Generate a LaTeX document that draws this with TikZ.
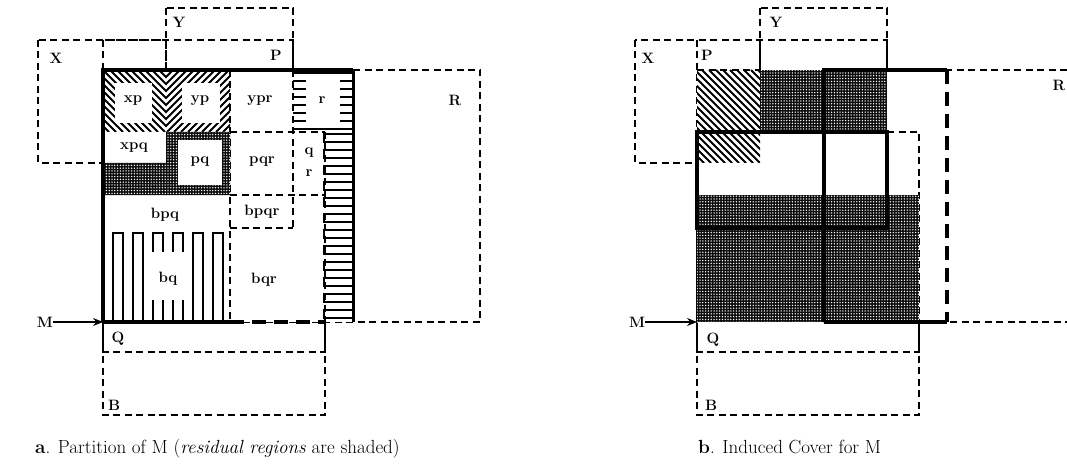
\documentclass[tikz,border=0pt]{standalone}
\usepackage{fontspec}
\usetikzlibrary{patterns,patterns.meta,arrows.meta}
\begin{document}
\begin{tikzpicture}[x=1pt,y=-1pt,
  dsh/.style={line width=1.6pt,dash pattern=on 7pt off 4.5pt},
  thk/.style={line width=3.6pt},
  thkd/.style={line width=3.6pt,dash pattern=on 14pt off 8pt},
  lbl/.style={font=\bfseries\fontsize{15}{16}\selectfont,inner sep=0pt},
  captxt/.style={font=\fontsize{19}{22}\selectfont,inner sep=0pt,anchor=base west},
  dots/.style={fill=black!95,postaction={pattern={Dots[distance=2.8pt,radius=0.75pt]},pattern color=white}},
  hatchln/.style={line width=2.1pt},
  hline/.style={line width=1.8pt},
  arr/.style={line width=1.4pt,-{Stealth[length=10pt,width=8pt]}}
]
\useasboundingbox (0,0) rectangle (1067,465);

% ================= part a =================
\draw[dsh] (38,40) rectangle (166,163);   % X
\draw[dsh] (166,8) rectangle (293,132);   % Y
\draw[dsh] (103,40) rectangle (293,228);  % P
\draw[dsh] (103,132) rectangle (325,352); % Q
\draw[dsh] (103,195) rectangle (325,415); % B
\draw[dsh] (230,70) rectangle (480,322);  % R
\fill[white] (103,70) rectangle (353,322);
% interior boundaries
\draw[dsh] (293,70) -- (293,228);
\draw[dsh] (230,132) -- (325,132);
\draw[dsh] (230,70) -- (230,322);
\draw[dsh] (230,195) -- (325,195);
\draw[dsh] (230,228) -- (293,228);
\draw[dsh] (325,132) -- (325,322);
% xp, yp hatched
\begin{scope}
  \clip (103,70) rectangle (166,132);
  \foreach \t in {0,...,18} { \draw[hatchln] ({40+7*\t},70) -- ({102+7*\t},132); }
\end{scope}
\begin{scope}
  \clip (166,70) rectangle (230,132);
  \foreach \t in {0,...,18} { \draw[hatchln] ({104+7*\t},132) -- ({166+7*\t},70); }
\end{scope}
\fill[white] (115,83) rectangle (152,123);
\fill[white] (182,83) rectangle (220,123);
% pq residual (dotted)
\fill[dots] (166,132) -- (230,132) -- (230,195) -- (103,195) -- (103,163) -- (166,163) -- cycle;
\fill[white] (178,140) rectangle (222,185);
% r region comb
\fill[pattern={Lines[angle=0,distance=8pt,line width=1.7pt]}] (293,72) rectangle (353,130);
\fill[white] (306,78) rectangle (340,124);
\foreach \k in {0,...,11} {
  \draw[hline] (353,{134+16*\k}) -- (324,{134+16*\k}) -- (324,{142+16*\k}) -- (353,{142+16*\k});
}
\draw[line width=3pt] (353,70) -- (353,322);
% bq vertical meander
\fill[white] (104,229) rectangle (229,321);
\foreach \k in {0,...,5} {
  \draw[hline] ({113+20*\k},322) -- ({113+20*\k},233) -- ({123+20*\k},233) -- ({123+20*\k},322);
}
\fill[white] (148,252) rectangle (190,300);
% M outline
\draw[thk] (103,322) -- (103,70) -- (353,70);
\draw[thk] (103,322) -- (230,322);
\draw[thkd] (230,322) -- (325,322);
% labels
\node[lbl] (lX) at (56,58) {X};
\node[lbl] (lY) at (179,22) {Y};
\node[lbl] (lP) at (276,55) {P};
\node[lbl] (lR) at (455,100) {R};
\node[lbl] (lxp) at (133,101) {xp};
\node[lbl] (lyp) at (200,101) {yp};
\node[lbl] (lypr) at (260,101) {ypr};
\node[lbl] (lr) at (322,100) {r};
\node[lbl] (lxpq) at (134,148) {xpq};
\node[lbl] (lpq) at (200,162) {pq};
\node[lbl] (lpqr) at (262,162) {pqr};
\node[lbl] (lq) at (309,153) {q};
\node[lbl] (lr2) at (309,173) {r};
\node[lbl] (lbpq) at (165,215) {bpq};
\node[lbl] (lbpqr) at (262,212) {bpqr};
\node[lbl] (lbq) at (168,279) {bq};
\node[lbl] (lbqr) at (264,280) {bqr};
\node[lbl] (lQ) at (118,339) {Q};
\node[lbl] (lB) at (114,405) {B};
\node[lbl] (lM) at (45,322) {M};
\coordinate (Ma) at (103,322);
\draw[arr] (lM.east) -- (Ma);
\node[captxt] (capa) at (35,453) {\textbf{a}. Partition of M (\textit{residual regions} are shaded)};

% ================= part b =================
\draw[dsh] (635,40) rectangle (760,163);   % X
\draw[dsh] (760,8) rectangle (887,132);    % Y
\draw[dsh] (697,40) rectangle (887,228);   % P
\draw[dsh] (697,132) rectangle (919,352);  % Q
\draw[dsh] (697,195) rectangle (919,415);  % B
\draw[dsh] (1067,70) -- (824,70) -- (824,322) -- (1067,322); % R
\fill[white] (697,70) rectangle (947,322);
\draw[dsh] (697,70) -- (760,70);
\draw[dsh] (887,132) -- (919,132) -- (919,322);
\begin{scope}
  \clip (697,70) rectangle (760,163);
  \foreach \t in {0,...,23} { \draw[hatchln] ({604+7*\t},70) -- ({697+7*\t},163); }
\end{scope}
\fill[dots] (760,70) rectangle (887,132);
\fill[dots] (697,195) rectangle (919,322);
\draw[thk] (697,132) rectangle (887,228);
\draw[thk] (824,322) -- (824,70) -- (947,70);
\draw[thk] (824,322) -- (947,322);
\draw[thkd] (947,70) -- (947,322);
\node[lbl] (bX) at (648,58) {X};
\node[lbl] (bY) at (776,22) {Y};
\node[lbl] (bP) at (707,55) {P};
\node[lbl] (bR) at (1059,85) {R};
\node[lbl] (bQ) at (713,340) {Q};
\node[lbl] (bB) at (711,405) {B};
\node[lbl] (bM) at (637,322) {M};
\coordinate (Mb) at (697,322);
\draw[arr] (bM.east) -- (Mb);
\node[captxt] (capb) at (698,453) {\textbf{b}. Induced Cover for M};
\end{tikzpicture}
\end{document}
